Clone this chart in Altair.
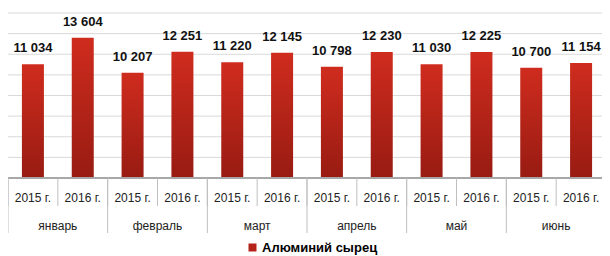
import altair as alt
import pandas as pd

months = ["январь", "февраль", "март", "апрель", "май", "июнь"]
years = ["2015 г.", "2016 г."]
values_2015 = [11034, 10207, 11220, 10798, 11030, 10700]
values_2016 = [13604, 12251, 12145, 12230, 12225, 11154]
series_name = "Алюминий сырец"
grid_values = [2000, 4000, 6000, 8000, 10000, 12000, 14000, 16000]

rows = []
for i, m in enumerate(months):
    for y, v in zip(years, [values_2015[i], values_2016[i]]):
        rows.append({
            "key": f"{m}|{y}",
            "month": m,
            "year": y,
            "value": v,
            "label": f"{v:,}".replace(",", " "),
            "series": series_name,
            "first": y == years[0],
        })
df = pd.DataFrame(rows)
keys = list(df["key"])
grid_df = pd.DataFrame({"g": grid_values})

W, H = 594, 165       # visible svg width; plot continues past the right edge (cropped like the reference)
PLOT_W = 598
xscale = alt.Scale(domain=keys, paddingInner=0, paddingOuter=0, range=[0, PLOT_W])
X = alt.X("key:N", scale=xscale, axis=None)
yscale = alt.Scale(domain=[0, 16000], nice=False)

base = alt.Chart(df)

grid = alt.Chart(grid_df).mark_rule(color="#d9d9d9").encode(
    x=alt.value(0), x2=alt.value(PLOT_W),
    y=alt.Y("g:Q", scale=yscale, axis=None),
)

bars = base.mark_bar(
    size=22,
    color=alt.Gradient(
        gradient="linear",
        stops=[alt.GradientStop(color="#cf2c1e", offset=0),
               alt.GradientStop(color="#981b12", offset=1)],
        x1=0, x2=0, y1=0, y2=1,
    ),
).encode(
    x=X,
    y=alt.Y("value:Q", scale=yscale, axis=None),
)

legend_layer = base.mark_square(opacity=0).encode(
    x=X,
    y=alt.Y("value:Q", scale=yscale, axis=None),
    color=alt.Color("series:N",
                    scale=alt.Scale(domain=[series_name], range=["#b52217"]),
                    legend=alt.Legend(title=None, orient="none", legendX=238, legendY=228,
                                      symbolType="square", symbolSize=64,
                                      symbolOpacity=1, symbolStrokeWidth=0,
                                      labelFont="Liberation Sans", labelFontSize=13,
                                      labelFontWeight="bold", labelColor="#000000",
                                      labelOffset=3)),
)

value_labels = base.mark_text(
    baseline="bottom", dy=-9, font="Liberation Sans", fontSize=13,
    fontWeight="bold", color="#111111",
).encode(x=X, y=alt.Y("value:Q", scale=yscale, axis=None), text="label:N")

baseline = base.mark_rule(color="#a6a6a6").encode(
    x=alt.value(0), x2=alt.value(PLOT_W), y=alt.Y("zero:Q", scale=yscale, axis=None)
).transform_calculate(zero="0").transform_filter(alt.datum.first)

year_sep = base.mark_rule(color="#bfbfbf").encode(
    x=alt.X("key:N", scale=xscale, axis=None, bandPosition=0),
    y=alt.value(H), y2=alt.value(H + 28),
)
month_sep = base.transform_filter(alt.datum.first).mark_rule(color="#bfbfbf").encode(
    x=alt.X("key:N", scale=xscale, axis=None, bandPosition=0),
    y=alt.value(H), y2=alt.value(H + 55),
)

year_labels = base.mark_text(
    baseline="middle", font="Liberation Sans", fontSize=12, color="#222222",
).encode(x=X, y=alt.value(H + 20), text="year:N")

month_labels = base.transform_filter(~alt.datum.first).mark_text(
    baseline="middle", font="Liberation Sans", fontSize=12, color="#222222",
).encode(
    x=alt.X("key:N", scale=xscale, axis=None, bandPosition=0),
    y=alt.value(H + 48), text="month:N",
)

chart = alt.layer(
    grid, bars, legend_layer, baseline, year_sep, month_sep,
    value_labels, year_labels, month_labels,
).properties(
    width=W, height=H,
    padding={"left": 0, "top": 5, "right": 0, "bottom": 78},
    autosize=alt.AutoSizeParams(type="none"),
    background="white",
).configure_view(stroke=None)

chart.save("out.html", embed_options={"renderer": "svg", "actions": False})
